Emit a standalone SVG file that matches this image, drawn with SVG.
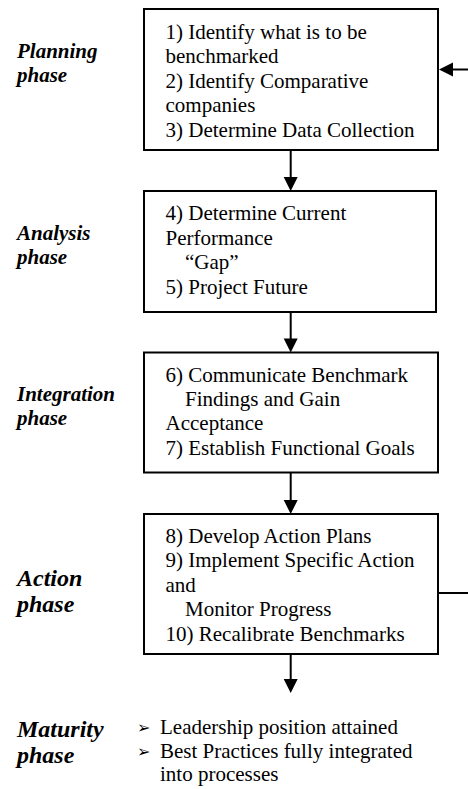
<svg xmlns="http://www.w3.org/2000/svg" width="468" height="789" viewBox="0 0 468 789">
<style>
  .box { fill: #fff; stroke: #000; stroke-width: 2; }
  .ln { stroke: #000; stroke-width: 2; fill: none; }
  .hd { fill: #000; }
</style>
<rect width="468" height="789" fill="#fff"/>

<g id="labels">
  <text x="17" y="57.5" font-family="Liberation Serif" font-size="21" font-weight="bold" font-style="italic">Planning</text>
  <text x="17" y="82" font-family="Liberation Serif" font-size="21" font-weight="bold" font-style="italic">phase</text>
  <text x="17" y="240" font-family="Liberation Serif" font-size="21" font-weight="bold" font-style="italic">Analysis</text>
  <text x="17" y="264" font-family="Liberation Serif" font-size="21" font-weight="bold" font-style="italic">phase</text>
  <text x="17" y="401" font-family="Liberation Serif" font-size="21" font-weight="bold" font-style="italic">Integration</text>
  <text x="17" y="425" font-family="Liberation Serif" font-size="21" font-weight="bold" font-style="italic">phase</text>
  <text x="17" y="586" font-family="Liberation Serif" font-size="24" font-weight="bold" font-style="italic">Action</text>
  <text x="17" y="612" font-family="Liberation Serif" font-size="24" font-weight="bold" font-style="italic">phase</text>
  <text x="17" y="737" font-family="Liberation Serif" font-size="24" font-weight="bold" font-style="italic">Maturity</text>
  <text x="17" y="763" font-family="Liberation Serif" font-size="24" font-weight="bold" font-style="italic">phase</text>
</g>

<g id="node1">
  <rect class="box" x="144" y="9" width="294" height="141"/>
  <text x="165.5" y="38.5" font-family="Liberation Serif" font-size="21">1) Identify what is to be</text>
  <text x="165.5" y="63" font-family="Liberation Serif" font-size="21">benchmarked</text>
  <text x="165.5" y="87.5" font-family="Liberation Serif" font-size="21">2) Identify Comparative</text>
  <text x="165.5" y="112" font-family="Liberation Serif" font-size="21">companies</text>
  <text x="165.5" y="136.5" font-family="Liberation Serif" font-size="21">3) Determine Data Collection</text>
</g>

<g id="node2">
  <rect class="box" x="144" y="191" width="292" height="121"/>
  <text x="165.5" y="220" font-family="Liberation Serif" font-size="21">4) Determine Current</text>
  <text x="165.5" y="244.5" font-family="Liberation Serif" font-size="21">Performance</text>
  <text x="185" y="269" font-family="Liberation Serif" font-size="21">&#8220;Gap&#8221;</text>
  <text x="165.5" y="293.5" font-family="Liberation Serif" font-size="21">5) Project Future</text>
</g>

<g id="node3">
  <rect class="box" x="144" y="352.5" width="294" height="120"/>
  <text x="165.5" y="381.5" font-family="Liberation Serif" font-size="21">6) Communicate Benchmark</text>
  <text x="185" y="405.5" font-family="Liberation Serif" font-size="21">Findings and Gain</text>
  <text x="165.5" y="430" font-family="Liberation Serif" font-size="21">Acceptance</text>
  <text x="165.5" y="455" font-family="Liberation Serif" font-size="21">7) Establish Functional Goals</text>
</g>

<g id="node4">
  <rect class="box" x="144" y="514" width="294" height="140"/>
  <text x="165.5" y="543" font-family="Liberation Serif" font-size="21">8) Develop Action Plans</text>
  <text x="165.5" y="567" font-family="Liberation Serif" font-size="21">9) Implement Specific Action</text>
  <text x="165.5" y="591.5" font-family="Liberation Serif" font-size="21">and</text>
  <text x="185" y="616" font-family="Liberation Serif" font-size="21">Monitor Progress</text>
  <text x="165.5" y="641" font-family="Liberation Serif" font-size="21">10) Recalibrate Benchmarks</text>
</g>

<g id="maturity">
  <text x="137" y="733" font-family="DejaVu Sans" font-size="16">&#10146;</text>
  <text x="160" y="734" font-family="Liberation Serif" font-size="21">Leadership position attained</text>
  <text x="137" y="757" font-family="DejaVu Sans" font-size="16">&#10146;</text>
  <text x="160" y="758" font-family="Liberation Serif" font-size="21">Best Practices fully integrated</text>
  <text x="160" y="781" font-family="Liberation Serif" font-size="21">into processes</text>
</g>

<g id="connectors">
  <line class="ln" x1="290.7" y1="150" x2="290.7" y2="178"/>
  <polygon class="hd" points="283.7,177 297.7,177 290.7,191"/>
  <line class="ln" x1="290.7" y1="312" x2="290.7" y2="339"/>
  <polygon class="hd" points="283.7,338.5 297.7,338.5 290.7,352.5"/>
  <line class="ln" x1="290.7" y1="472.5" x2="290.7" y2="501"/>
  <polygon class="hd" points="283.7,500 297.7,500 290.7,514"/>
  <line class="ln" x1="290.7" y1="654" x2="290.7" y2="680"/>
  <polygon class="hd" points="283.7,679 297.7,679 290.7,693"/>
  <line class="ln" x1="438" y1="593" x2="468" y2="593"/>
  <line class="ln" x1="468" y1="69.5" x2="452" y2="69.5"/>
  <polygon class="hd" points="453,62.5 453,76.5 439,69.5"/>
</g>
</svg>
